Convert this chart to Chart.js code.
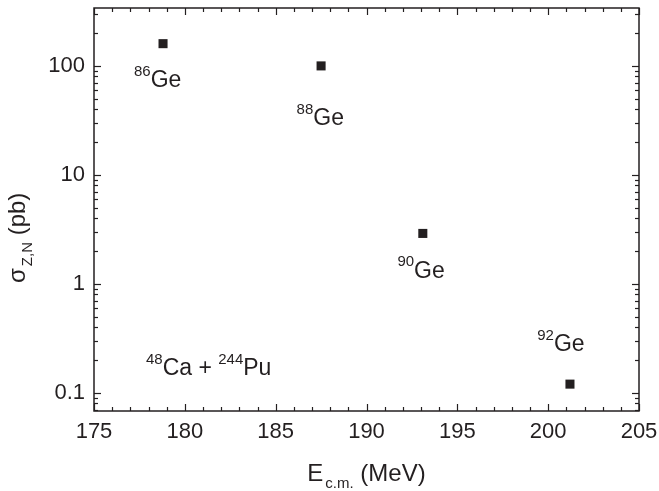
<!DOCTYPE html>
<html>
<head>
<meta charset="utf-8">
<script src="https://cdn.jsdelivr.net/npm/chart.js@4/dist/chart.umd.min.js"></script>
<style>
  html, body { margin: 0; padding: 0; background: #fff; }
  canvas { display: block; }
</style>
</head>
<body>
<canvas id="myChart" width="659" height="491"></canvas>
<script>
const energies = [178.8, 187.5, 193.1, 201.2];
const sigmas = [160, 100, 2.9, 0.12];
const isotopes = ["86", "88", "90", "92"];

// where each isotope label starts (data units, text baseline)
const labelX = [177.2, 186.15, 191.7, 199.4];
const labelY = [63.5, 28.5, 1.14, 0.241];
const reactionX = 177.86;
const reactionY = 0.145;

const xTicks = [175, 180, 185, 190, 195, 200, 205];
const yTicks = [0.1, 1, 10, 100];
const yTickLabels = ["0.1", "1", "10", "100"];

const ink = "#231f20";
const fam = "'Liberation Sans', Arial, sans-serif";

function drawIso(ctx, x, y, mass, sym, size) {
  ctx.font = Math.round(size * 0.66) + "px " + fam;
  ctx.fillText(mass, x, y - size * 0.5);
  x += ctx.measureText(mass).width;
  ctx.font = size + "px " + fam;
  ctx.fillText(sym, x, y);
  return x + ctx.measureText(sym).width;
}

// main text, then a lowered subscript, then more main text
function drawSub(ctx, x, y, main, sub, rest, size, subSize, drop) {
  ctx.font = size + "px " + fam;
  ctx.fillText(main, x, y);
  x += ctx.measureText(main).width + 2;
  ctx.font = subSize + "px " + fam;
  ctx.fillText(sub, x, y + drop);
  x += ctx.measureText(sub).width;
  ctx.font = size + "px " + fam;
  ctx.fillText(rest, x, y);
  return x + ctx.measureText(rest).width;
}

function subWidth(ctx, main, sub, rest, size, subSize) {
  ctx.font = size + "px " + fam;
  let w = ctx.measureText(main).width + ctx.measureText(rest).width + 2;
  ctx.font = subSize + "px " + fam;
  return w + ctx.measureText(sub).width;
}

const decor = {
  id: "decor",
  afterDraw(chart) {
    const { ctx, chartArea: a } = chart;
    const x = chart.scales.x;
    const y = chart.scales.y;
    ctx.save();
    ctx.strokeStyle = ink;
    ctx.lineWidth = 1.5;
    ctx.strokeRect(a.left, a.top, a.right - a.left, a.bottom - a.top);

    ctx.lineWidth = 1.2;
    const seg = (x1, y1, x2, y2) => {
      ctx.beginPath();
      ctx.moveTo(x1, y1);
      ctx.lineTo(x2, y2);
      ctx.stroke();
    };
    for (let v = x.min; v <= x.max; v++) {
      const px = Math.round(x.getPixelForValue(v)) + 0.5;
      const len = v % 5 === 0 ? 7 : 4;
      seg(px, a.bottom, px, a.bottom - len);
      seg(px, a.top, px, a.top + len);
    }
    for (let d = 0.01; d < 10000; d *= 10) {
      for (let k = 1; k <= 9; k++) {
        const v = k * d;
        if (v < y.min || v > y.max) continue;
        const py = Math.round(y.getPixelForValue(v)) + 0.5;
        const len = k === 1 ? 7 : 4;
        seg(a.left, py, a.left + len, py);
        seg(a.right, py, a.right - len, py);
      }
    }

    ctx.fillStyle = ink;
    ctx.textBaseline = "alphabetic";
    ctx.textAlign = "left";
    for (let i = 0; i < isotopes.length; i++) {
      drawIso(ctx, x.getPixelForValue(labelX[i]), y.getPixelForValue(labelY[i]), isotopes[i], "Ge", 23);
    }
    let rx = x.getPixelForValue(reactionX);
    const ry = y.getPixelForValue(reactionY);
    rx = drawIso(ctx, rx, ry, "48", "Ca + ", 23);
    drawIso(ctx, rx, ry, "244", "Pu", 23);

    // x title
    const xw = subWidth(ctx, "E", "c.m.", " (MeV)", 24, 15);
    drawSub(ctx, (a.left + a.right) / 2 - xw / 2, 481, "E", "c.m.", " (MeV)", 24, 15, 7);

    // y title
    ctx.translate(25, 283);
    ctx.rotate(-Math.PI / 2);
    drawSub(ctx, 0, 0, "\u03c3", "Z,N", " (pb)", 24, 15, 7);
    ctx.restore();
  }
};

const ctx = document.getElementById("myChart").getContext("2d");

const myChart = new Chart(ctx, {
  type: "scatter",
  data: {
    datasets: [
      {
        data: energies.map((e, i) => ({ x: e, y: sigmas[i] })),
        pointStyle: "rect",
        pointRadius: 6.4,
        pointBorderWidth: 0,
        backgroundColor: ink,
        borderColor: ink,
      },
    ],
  },
  options: {
    responsive: false,
    animation: false,
    layout: { padding: { left: 0, top: 8, right: 20, bottom: 0 } },
    plugins: {
      legend: { display: false },
      tooltip: { enabled: false },
    },
    scales: {
      x: {
        type: "linear",
        min: 175,
        max: 205,
        afterBuildTicks: (s) => { s.ticks = xTicks.map((v) => ({ value: v })); },
        afterFit: (s) => {
          s.height = 80;
          s.paddingLeft = 0;
          s.paddingRight = 0;
        },
        grid: { display: false, drawTicks: false },
        border: { display: false },
        ticks: {
          color: ink,
          padding: 8,
          maxRotation: 0,
          font: { family: fam, size: 22 },
        },
      },
      y: {
        type: "logarithmic",
        min: 0.068,
        max: 340,
        afterBuildTicks: (s) => { s.ticks = yTicks.map((v) => ({ value: v })); },
        afterFit: (s) => {
          s.width = 94;
          s.paddingTop = 0;
          s.paddingBottom = 0;
        },
        grid: { display: false, drawTicks: false },
        border: { display: false },
        ticks: {
          color: ink,
          padding: 9,
          font: { family: fam, size: 22 },
          callback: (v) => yTickLabels[yTicks.indexOf(v)],
        },
      },
    },
  },
  plugins: [decor],
});
</script>
</body>
</html>
